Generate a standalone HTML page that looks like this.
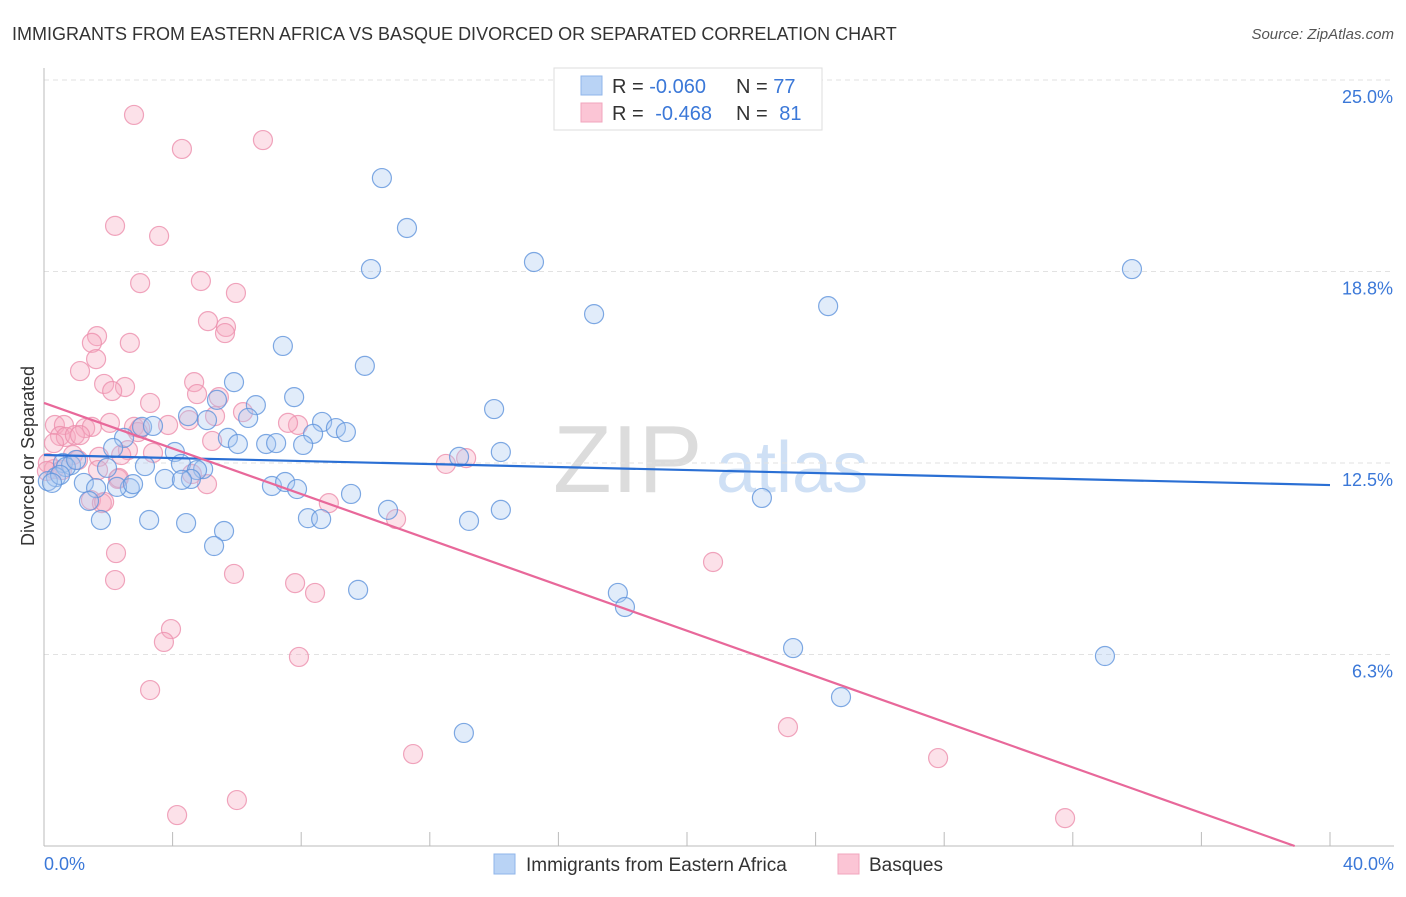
<!DOCTYPE html>
<html><head><meta charset="utf-8"><style>
body{margin:0;background:#fff;font-family:"Liberation Sans",sans-serif}
svg text{font-family:"Liberation Sans",sans-serif}
</style></head><body>
<svg id="chart" width="1406" height="892" xmlns="http://www.w3.org/2000/svg">
<text x="12" y="40" font-size="18" fill="#333">IMMIGRANTS FROM EASTERN AFRICA VS BASQUE DIVORCED OR SEPARATED CORRELATION CHART</text>
<text x="1394" y="39" font-size="15" fill="#555" font-style="italic" text-anchor="end">Source: ZipAtlas.com</text>
<g><text x="553" y="492" font-size="96" fill="#dcdcdc" font-family="Liberation Serif">ZIP</text><text x="716" y="492" font-size="72" fill="#cfe0f5">atlas</text></g>
<g id="grid"></g><g id="axes"></g><g id="pts"></g><g id="trend"></g>
<text transform="translate(34,456) rotate(-90)" font-size="18" fill="#333" text-anchor="middle">Divorced or Separated</text>
<g>
<rect x="554" y="68" width="268" height="62" fill="#fff" stroke="#ddd"/>
<rect x="581" y="76" width="21" height="19" fill="#b9d3f5" stroke="#8fb5ea"/>
<rect x="581" y="103" width="21" height="19" fill="#fbc5d5" stroke="#f2a5bd"/>
<text x="612" y="93" font-size="20" fill="#333">R = <tspan fill="#3b78d8">-0.060</tspan></text>
<text x="736" y="93" font-size="20" fill="#333">N = <tspan fill="#3b78d8">77</tspan></text>
<text x="612" y="120" font-size="20" fill="#333">R = <tspan fill="#3b78d8" dx="6">-0.468</tspan></text>
<text x="736" y="120" font-size="20" fill="#333">N = <tspan fill="#3b78d8" dx="6">81</tspan></text>
</g>
<g>
<rect x="494" y="854" width="21" height="20" fill="#b9d3f5" stroke="#8fb5ea"/>
<text x="526" y="871" font-size="19" fill="#333">Immigrants from Eastern Africa</text>
<rect x="838" y="854" width="21" height="20" fill="#fbc5d5" stroke="#f2a5bd"/>
<text x="869" y="871" font-size="19" fill="#333">Basques</text>
</g>
</svg>
<script>
const yTicks=[6.25,12.5,18.75,25];
const yTickLabels=["6.3%","12.5%","18.8%","25.0%"];
const xTicks=[0,4,8,12,16,20,24,28,32,36,40];
const xEndLabels=["0.0%","40.0%"];
const blueX=[10.51,11.29,15.24,10.17,33.84,17.11,24.39,7.43,9.98,5.91,7.78,5.38,6.59,14.00,4.48,5.07,6.35,8.65,3.05,3.39,9.08,9.39,2.49,5.72,8.37,8.06,6.91,7.22,6.03,2.15,4.07,14.21,12.91,0.59,0.84,0.68,4.26,3.14,4.95,4.76,1.96,0.37,0.12,1.24,3.76,4.57,2.67,2.27,1.62,7.09,7.50,7.87,9.55,22.33,1.40,10.70,14.21,8.21,8.62,3.27,1.77,4.42,13.22,5.60,5.29,9.77,17.85,18.07,23.30,33.00,24.79,13.06,0.50,0.25,1.00,2.77,4.29];
const blueY=[21.80,20.17,19.06,18.83,18.83,17.36,17.62,16.32,15.67,15.14,14.65,14.56,14.39,14.26,14.03,13.90,13.97,13.84,13.68,13.71,13.64,13.51,13.32,13.32,13.45,13.09,13.12,13.15,13.12,12.99,12.86,12.86,12.70,12.50,12.43,12.37,12.47,12.40,12.30,12.27,12.34,12.04,11.91,11.85,11.98,11.98,11.68,11.72,11.68,11.75,11.88,11.65,11.49,11.36,11.26,10.97,10.97,10.70,10.67,10.64,10.64,10.54,10.61,10.28,9.79,8.36,8.26,7.80,6.46,6.20,4.86,3.69,12.11,11.85,12.60,11.81,11.95];
const pinkX=[2.80,6.81,4.29,2.21,3.58,2.99,4.88,5.97,5.10,5.66,5.63,1.65,1.49,2.67,1.62,1.12,4.67,1.87,2.52,2.12,5.44,4.76,3.30,6.19,5.32,4.51,7.90,2.05,0.34,0.62,1.28,1.49,2.80,2.92,3.86,0.50,0.68,0.96,1.12,5.23,0.31,2.61,3.39,0.90,1.71,1.06,12.50,13.13,0.31,0.12,1.68,4.60,5.07,2.30,2.33,1.46,1.80,8.86,10.95,2.24,20.81,5.91,7.81,2.21,8.43,3.95,3.73,7.93,3.30,23.14,11.48,27.81,6.00,4.14,31.76,0.09,0.56,2.99,1.87,2.40,7.59];
const pinkY=[23.86,23.04,22.75,20.24,19.91,18.37,18.44,18.05,17.13,16.94,16.74,16.64,16.42,16.42,15.89,15.50,15.14,15.08,14.98,14.85,14.65,14.75,14.46,14.16,14.03,13.90,13.74,13.81,13.74,13.74,13.64,13.68,13.68,13.51,13.74,13.38,13.35,13.41,13.41,13.22,13.15,12.92,12.83,12.76,12.70,12.60,12.47,12.66,12.30,12.50,12.27,12.14,11.81,11.98,12.01,11.29,11.19,11.19,10.67,9.56,9.27,8.88,8.58,8.68,8.26,7.08,6.66,6.17,5.09,3.88,3.00,2.87,1.50,1.01,0.91,12.24,12.27,13.64,11.23,12.76,13.81];
const blueTrend=[[0,12.76],[40,11.78]];
const pinkTrend=[[0,14.46],[38.9,0]];
const X=v=>44+v*(1286/40), Y=v=>846-v*(766/25);
const NS="http://www.w3.org/2000/svg";
function mk(p,t,a){const e=document.createElementNS(NS,t);for(const k in a)e.setAttribute(k,a[k]);p.appendChild(e);return e;}
const grid=document.getElementById('grid'),axes=document.getElementById('axes'),pts=document.getElementById('pts'),tr=document.getElementById('trend');
yTicks.forEach((t,i)=>{
 const l=mk(grid,'line',{x1:44,x2:1394,y1:Y(t),y2:Y(t),stroke:'#e2e2e2','stroke-dasharray':'5,4'});
 
 
 const tx=mk(grid,'text',{x:1393,y:Y(t)+23,'font-size':18,fill:'#3b78d8','text-anchor':'end'});
 tx.textContent=yTickLabels[i];
 
 
});
const ax=mk(axes,'line',{x1:44,x2:44,y1:68,y2:846,stroke:'#bbb'});


const bx=mk(axes,'line',{x1:44,x2:1394,y1:846,y2:846,stroke:'#bbb'});


xTicks.forEach(t=>{
 const l=mk(axes,'line',{x1:X(t),x2:X(t),y1:832,y2:846,stroke:'#bbb'});
 
 
});
[[0,'start',44],[40,'end',1394]].forEach((d,i)=>{
 const tx=mk(axes,'text',{x:d[2],y:870,'font-size':18,fill:'#3b78d8','text-anchor':d[1]});
 tx.textContent=xEndLabels[i];
 
 
});
function dots(xs,ys,fill,stroke,name){xs.forEach((x,i)=>{
 const c=mk(pts,'circle',{cx:X(x),cy:Y(ys[i]),r:9.5,fill:fill,'fill-opacity':0.35,stroke:stroke,'stroke-opacity':0.8,'stroke-width':1.2});
 
 
});}
dots(pinkX,pinkY,'#f5a9c0','#ec8fac','basques-point');
dots(blueX,blueY,'#a9c8f0','#5f93dc','eastern-africa-point');
const bl=mk(tr,'line',{x1:X(blueTrend[0][0]),y1:Y(blueTrend[0][1]),x2:X(blueTrend[1][0]),y2:Y(blueTrend[1][1]),stroke:'#2a6fd4','stroke-width':2.2});


const pl=mk(tr,'line',{x1:X(pinkTrend[0][0]),y1:Y(pinkTrend[0][1]),x2:X(pinkTrend[1][0]),y2:Y(pinkTrend[1][1]),stroke:'#e8689a','stroke-width':2.2});


</script>
</body></html>
